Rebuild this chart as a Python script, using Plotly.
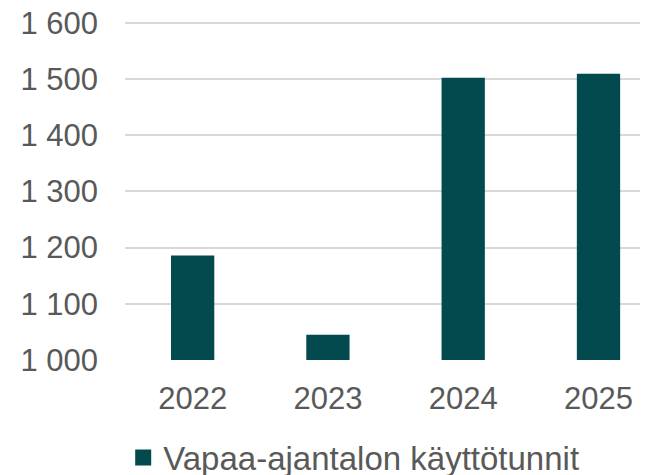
import plotly.graph_objects as go

years = ["2022", "2023", "2024", "2025"]
hours = [1186, 1045, 1502, 1509]
series_name = "Vapaa-ajantalon käyttötunnit"

bar_color = "#024A4D"
text_color = "#595959"
grid_color = "#D9D9D9"

fig = go.Figure()
fig.add_trace(go.Bar(
    x=years, y=hours, name=series_name,
    marker=dict(color=bar_color, line=dict(width=0)),
    showlegend=False,
))
# legend entry with a bigger square
fig.add_trace(go.Scatter(
    x=[None], y=[None], mode="markers", name=series_name,
    marker=dict(symbol="square", size=19, color=bar_color),
))

# page body has an 8px margin, so the figure is 8px smaller each way
fig.update_layout(
    width=640, height=467,
    margin=dict(l=117, r=0, t=13, b=115, autoexpand=False),
    plot_bgcolor="white", paper_bgcolor="white",
    font=dict(family="Liberation Sans, Arial", size=31, color=text_color),
    bargap=0.68,
    showlegend=True,
    legend=dict(
        orientation="h", xref="container", yref="paper",
        x=0.18, xanchor="left", y=-0.288, yanchor="middle",
        font=dict(size=33, color=text_color),
        itemsizing="trace",
    ),
    xaxis=dict(
        type="category", range=[-0.5, 3.366],
        showgrid=False, showline=False, ticks="",
        ticklabelstandoff=17, automargin=False,
    ),
    yaxis=dict(
        # a little headroom so the 1 600 gridline is not clipped
        range=[1000, 1603], dtick=100, tickformat=",d",
        showgrid=True, gridcolor=grid_color, gridwidth=1.5,
        zeroline=False, showline=False, ticks="",
        ticklabelstandoff=26, automargin=False,
        ticklabeloverflow="allow",
    ),
    separators=". ",
)

fig.write_html("out.html")
